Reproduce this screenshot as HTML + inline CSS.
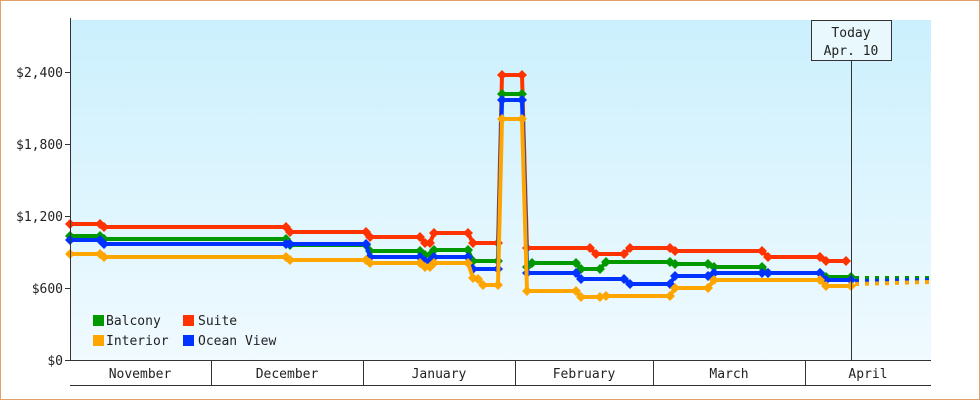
<!DOCTYPE html><html><head><style>body{margin:0}svg{display:block}text{font-family:"DejaVu Sans Mono","Liberation Mono",monospace;font-size:13px;fill:#222}</style></head><body>
<svg width="980" height="400" xmlns="http://www.w3.org/2000/svg">
<defs><linearGradient id="g" x1="0" y1="0" x2="0" y2="1"><stop offset="0" stop-color="#cbf0fd"/><stop offset="1" stop-color="#f0faff"/></linearGradient>
<marker id="mr" markerUnits="userSpaceOnUse" markerWidth="12" markerHeight="12" refX="6" refY="6" overflow="visible"><path d="M6,1 L11,6 L6,11 L1,6Z" fill="#ff3300"/></marker>
<marker id="mg" markerUnits="userSpaceOnUse" markerWidth="12" markerHeight="12" refX="6" refY="6" overflow="visible"><path d="M6,1 L11,6 L6,11 L1,6Z" fill="#009900"/></marker>
<marker id="mb" markerUnits="userSpaceOnUse" markerWidth="12" markerHeight="12" refX="6" refY="6" overflow="visible"><path d="M6,1 L11,6 L6,11 L1,6Z" fill="#0033ff"/></marker>
<marker id="mo" markerUnits="userSpaceOnUse" markerWidth="12" markerHeight="12" refX="6" refY="6" overflow="visible"><path d="M6,1 L11,6 L6,11 L1,6Z" fill="#ffa500"/></marker>
</defs>
<rect x="0.5" y="0.5" width="979" height="399" fill="#fff" stroke="#e3a068"/>
<rect x="71" y="20" width="860" height="340" fill="url(#g)"/>
<g stroke-width="4" fill="none" stroke-linejoin="round">
<polyline stroke="#ff3300" marker-start="url(#mr)" marker-mid="url(#mr)" marker-end="url(#mr)" points="70,224 100,224 104,227 286,227 290,232 366,232 370,237 420,237 425,243 430,243 434,233 468,233 473,243 498,243 502,75 522,75 527,248 590,248 596,254 624,254 630,248 670,248 675,251 762,251 768,257 820,257 826,261 846,261"/>
<polyline stroke="#009900" marker-start="url(#mg)" marker-mid="url(#mg)" marker-end="url(#mg)" points="70,236 100,236 104,239 286,239 290,245 366,245 370,251 420,251 425,255 430,255 434,250 468,250 473,261 498,261 502,94 522,94 527,267 532,263 576,263 581,269 600,269 606,262 670,262 675,264 708,264 714,267 762,267 768,273 820,273 826,277 851,277"/>
<polyline stroke="#0033ff" marker-start="url(#mb)" marker-mid="url(#mb)" marker-end="url(#mb)" points="70,240 100,240 104,244 286,244 290,244 366,244 370,257 420,257 425,261 430,261 434,257 468,257 473,269 498,269 502,100 522,100 527,273 576,273 581,279 624,279 630,284 670,284 675,276 708,276 714,273 762,273 768,273 820,273 826,280 851,280"/>
<polyline stroke="#ffa500" marker-start="url(#mo)" marker-mid="url(#mo)" marker-end="url(#mo)" points="70,254 100,254 104,257 286,257 290,260 366,260 370,263 420,263 425,267 430,267 434,263 468,263 473,278 478,279 483,285 498,285 502,119 522,119 527,291 576,291 581,297 600,297 606,296 670,296 675,288 708,288 714,280 820,280 826,286 851,286"/>
<g stroke-dasharray="4,6"><line x1="855" y1="278" x2="930" y2="278" stroke="#009900"/><line x1="855" y1="281" x2="930" y2="280" stroke="#0033ff"/><line x1="855" y1="284" x2="930" y2="282" stroke="#ffa500"/></g>
</g>
<g fill="none" stroke="#333"><line x1="70.5" y1="18" x2="70.5" y2="361"/><line x1="70" y1="360.5" x2="931" y2="360.5"/><line x1="70" y1="385.5" x2="931" y2="385.5"/>
<line x1="65" y1="72.5" x2="70" y2="72.5"/><line x1="65" y1="144.5" x2="70" y2="144.5"/><line x1="65" y1="216.5" x2="70" y2="216.5"/><line x1="65" y1="288.5" x2="70" y2="288.5"/><line x1="65" y1="360.5" x2="70" y2="360.5"/>
<line x1="211.5" y1="360" x2="211.5" y2="385"/><line x1="363.5" y1="360" x2="363.5" y2="385"/><line x1="515.5" y1="360" x2="515.5" y2="385"/><line x1="653.5" y1="360" x2="653.5" y2="385"/><line x1="805.5" y1="360" x2="805.5" y2="385"/>
<line x1="851.5" y1="60" x2="851.5" y2="360"/><rect x="811.5" y="20.5" width="80" height="40" fill="#e8f8fd"/></g>
<g text-anchor="end"><text x="63" y="77">$2,400</text><text x="63" y="149">$1,800</text><text x="63" y="221">$1,200</text><text x="63" y="293">$600</text><text x="63" y="365">$0</text></g>
<g text-anchor="middle"><text x="140" y="378">November</text><text x="287" y="378">December</text><text x="439" y="378">January</text><text x="584" y="378">February</text><text x="729" y="378">March</text><text x="868" y="378">April</text><text x="851" y="37">Today</text><text x="851" y="55">Apr. 10</text></g>
<rect x="93" y="315" width="11" height="11" fill="#009900"/><text x="106" y="325">Balcony</text>
<rect x="183" y="315" width="11" height="11" fill="#ff3300"/><text x="198" y="325">Suite</text>
<rect x="93" y="335" width="11" height="11" fill="#ffa500"/><text x="106" y="345">Interior</text>
<rect x="183" y="335" width="11" height="11" fill="#0033ff"/><text x="198" y="345">Ocean View</text>
</svg></body></html>
